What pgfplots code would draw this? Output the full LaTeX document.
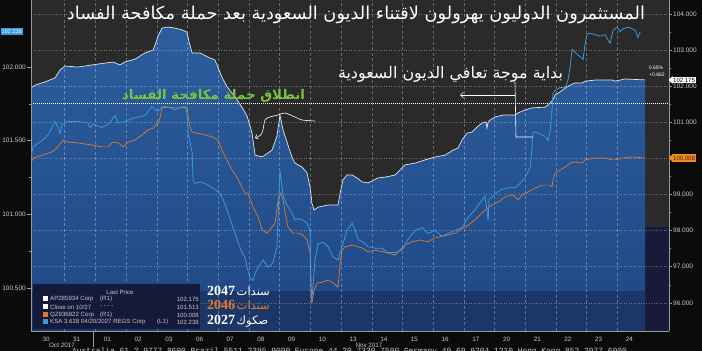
\documentclass[border=0pt]{standalone}
\usepackage{pgfplots}
\pgfplotsset{compat=1.18}
\usepackage{pgfplotstable}
\usepackage{graphicx}
\usepackage{fontspec}
\setmainfont{Liberation Sans}
\newfontfamily\arabicfont[Script=Arabic]{DejaVu Sans}
\newfontfamily\numfont{Liberation Serif}
\newfontfamily\monofont{Liberation Mono}
\TeXXeTstate=1
\usetikzlibrary{arrows.meta}

\definecolor{bgpage}{HTML}{0B0B0B}
\definecolor{bgplot}{HTML}{2A2A2A}
\definecolor{fillTop}{HTML}{2C5D9E}
\definecolor{fillBot}{HTML}{1F4884}
\definecolor{band}{HTML}{1B3769}
\definecolor{navy}{HTML}{171B38}
\definecolor{bbOrange}{HTML}{E07B2C}
\definecolor{boxOrange}{HTML}{F08A24}
\definecolor{bbBlue}{HTML}{3A98E0}
\definecolor{lgray}{HTML}{C8C8C8}
\definecolor{axgray}{HTML}{9A9A9A}
\definecolor{ggreen}{HTML}{7CC242}
\definecolor{legbg}{HTML}{15193A}
\definecolor{wline}{HTML}{E6E6E6}

\pgfplotstableread{
t v
-0.49 101.95
-0.36 102.03
-0.03 102.12
0.29 102.23
0.46 102.45
0.62 102.56
1.04 102.53
1.50 102.59
1.92 102.64
2.18 102.67
2.41 102.59
2.57 102.67
2.90 102.75
3.22 102.92
3.49 103.00
3.65 103.39
3.78 103.61
3.97 103.64
4.20 103.61
4.43 103.56
4.59 103.50
4.66 103.22
4.76 102.92
5.02 102.92
5.34 102.78
5.50 102.73
5.60 102.53
5.73 102.25
5.90 101.98
6.16 101.70
6.38 101.42
6.55 101.17
6.71 100.70
6.81 100.09
7.04 100.04
7.23 100.15
7.36 100.23
7.52 100.61
7.62 101.20
7.72 100.79
7.88 100.37
8.01 100.04
8.11 99.87
8.34 99.76
8.50 99.60
8.60 99.21
8.66 98.76
8.73 98.57
8.86 98.65
9.19 98.71
9.51 98.71
9.58 99.04
9.67 99.40
9.80 99.54
9.97 99.54
10.13 99.46
10.29 99.35
10.49 99.32
10.81 99.46
11.04 99.48
11.37 99.54
11.53 99.68
11.69 99.82
12.02 99.87
12.35 99.96
12.67 100.04
13.00 100.09
13.26 100.23
13.42 100.29
13.55 100.51
13.71 100.70
13.88 100.73
14.04 100.87
14.20 100.98
14.33 101.01
14.36 100.84
14.40 101.01
14.46 101.06
14.63 101.15
14.89 101.20
15.28 101.20
15.37 101.26
15.60 101.34
15.83 101.40
16.25 101.42
16.35 101.48
16.51 101.62
16.58 101.76
16.74 101.84
16.91 101.95
17.07 102.03
17.23 102.09
17.46 102.09
17.56 102.14
17.88 102.17
18.44 102.17
18.53 102.14
18.86 102.20
19.51 102.175
}\whitedata

\pgfplotstableread{
t v
-0.49 99.87
-0.42 100.01
-0.13 100.09
0.20 100.18
0.39 100.32
0.55 100.51
0.72 100.45
1.04 100.43
1.50 100.37
1.82 100.32
2.02 100.32
2.18 100.45
2.35 100.43
2.51 100.32
2.67 100.45
2.90 100.51
3.13 100.65
3.32 100.79
3.49 100.84
3.65 100.98
3.71 101.12
3.78 101.40
3.97 101.42
4.20 101.40
4.43 101.40
4.59 101.42
4.63 101.15
4.69 100.87
4.76 100.73
4.92 100.70
5.18 100.65
5.44 100.59
5.60 100.51
5.73 100.23
5.90 99.96
6.06 99.68
6.22 99.48
6.38 99.21
6.48 99.04
6.58 99.04
6.74 98.65
6.91 98.38
7.04 98.02
7.20 97.93
7.36 98.10
7.46 98.21
7.56 98.85
7.65 99.04
7.72 98.85
7.79 98.49
7.88 98.10
8.05 97.93
8.21 97.93
8.37 97.88
8.50 97.74
8.60 97.38
8.63 96.27
8.66 95.99
8.73 96.35
8.83 96.55
8.99 96.57
9.19 96.63
9.35 96.55
9.51 96.44
9.58 97.10
9.64 97.46
9.74 97.55
9.97 97.60
10.29 97.52
10.49 97.41
10.72 97.46
11.14 97.38
11.37 97.32
11.53 97.46
11.69 97.60
11.92 97.69
12.18 97.74
12.44 97.69
12.67 97.80
13.09 97.88
13.32 97.93
13.49 98.02
13.65 98.10
13.88 98.24
14.07 98.38
14.30 98.57
14.53 98.71
14.72 98.79
14.95 98.93
15.18 98.99
15.28 98.93
15.37 98.85
15.50 98.99
15.70 99.07
15.93 99.18
16.16 99.26
16.42 99.26
16.48 99.21
16.51 99.40
16.58 99.59
16.74 99.68
16.91 99.76
17.07 99.87
17.23 99.90
17.46 99.87
17.56 99.96
17.88 100.01
18.21 100.01
18.44 99.96
18.53 99.96
18.76 100.01
19.09 100.04
19.51 100.008
}\orangedata

\pgfplotstableread{
t v
-0.49 101.39
-0.42 101.46
-0.13 101.50
0.07 101.54
0.20 101.59
0.29 101.63
0.39 101.59
0.46 101.55
0.52 101.61
0.72 101.63
1.04 101.63
1.37 101.62
1.43 101.59
1.53 101.61
1.82 101.59
2.02 101.61
2.25 101.67
2.35 101.62
2.57 101.63
2.80 101.65
3.00 101.66
3.22 101.67
3.45 101.73
3.55 101.71
3.65 101.70
3.78 101.73
3.97 101.73
4.20 101.71
4.43 101.73
4.53 101.73
4.59 101.69
4.63 101.55
4.76 101.42
4.79 101.23
4.85 101.21
5.02 101.22
5.18 101.21
5.34 101.19
5.50 101.17
5.67 101.14
5.77 101.10
5.93 101.01
6.09 100.91
6.22 100.83
6.38 100.74
6.48 100.71
6.55 100.64
6.64 100.57
6.74 100.55
6.81 100.60
6.91 100.64
7.07 100.69
7.23 100.64
7.39 100.67
7.52 100.78
7.62 101.30
7.72 101.13
7.85 101.06
8.01 101.01
8.11 100.96
8.21 100.97
8.37 100.96
8.50 100.94
8.60 100.89
8.63 100.53
8.66 100.42
8.70 100.53
8.76 100.69
8.86 100.80
9.02 100.81
9.19 100.78
9.35 100.71
9.51 100.69
9.64 100.78
9.80 100.89
9.97 100.94
10.07 100.89
10.16 100.83
10.33 100.81
10.49 100.78
10.72 100.77
10.94 100.77
11.14 100.74
11.37 100.74
11.60 100.76
11.79 100.83
12.02 100.89
12.25 100.91
12.44 100.87
12.67 100.89
12.90 100.85
13.09 100.87
13.32 100.89
13.55 100.91
13.75 100.98
13.97 101.03
14.14 101.08
14.30 101.12
14.40 100.96
14.43 101.10
14.63 101.14
14.85 101.17
15.05 101.18
15.28 101.18
15.44 101.21
15.60 101.25
15.77 101.32
15.83 101.46
15.86 101.55
15.93 101.56
16.03 101.55
16.25 101.53
16.35 101.50
16.42 101.57
16.48 101.71
16.51 101.82
16.58 101.84
16.74 101.86
16.91 101.86
17.00 101.91
17.07 102.00
17.13 102.12
17.23 102.10
17.33 102.08
17.46 102.06
17.49 102.05
17.56 102.16
17.62 102.22
17.72 102.23
17.88 102.22
18.05 102.21
18.21 102.22
18.31 102.18
18.37 102.16
18.47 102.25
18.60 102.27
18.70 102.24
18.79 102.26
18.96 102.27
19.09 102.26
19.19 102.25
19.28 102.20
19.35 102.238
}\bluedata

\tikzset{
  hgrid/.style={draw=white, draw opacity=0.33, line width=0.5pt, dash pattern=on 1pt off 1.5pt},
  vgrid/.style={draw=white, draw opacity=0.30, line width=0.5pt, dash pattern=on 3pt off 2.5pt},
}
\newcommand{\tickfont}{\fontsize{6.5}{6.5}\selectfont}
\newcommand{\legfont}{\fontsize{6.1}{7}\selectfont}

\begin{document}
\begin{tikzpicture}[x=1pt,y=1pt]
\fill[bgpage] (0,0) rectangle (702,351);

% ---------------- main axis (right scale) ----------------
\begin{axis}[
  at={(31pt,20pt)}, anchor=south west,
  scale only axis, width=638pt, height=331pt,
  xmin=-0.489, xmax=20.29, ymin=95.219, ymax=104.388,
  axis x line*=bottom, axis y line*=right,
  axis line style={draw=axgray, line width=0.6pt, -},
  axis background/.style={fill=bgplot},
  xtick={0,...,19},
  xticklabels={30,31,01,02,03,06,07,08,09,10,13,14,15,16,17,20,21,22,23,24},
  xtick style={draw=none},
  xticklabel style={font=\fontsize{6.3}{6.3}\selectfont, text=lgray, anchor=north, inner sep=0pt, yshift=-3pt},
  ytick={96,97,...,104},
  yticklabels={96.000,97.000,98.000,99.000,,101.000,102.000,103.000,104.000},
  minor y tick num=1,
  ytick style={draw=axgray, line width=0.5pt},
  tick align=outside, major tick length=3pt, minor tick length=2pt,
  yticklabel style={font=\tickfont, text=lgray, anchor=west, inner sep=0pt, xshift=1pt},
  clip=true,
]
\fill[navy] (axis cs:19.51,95.219) rectangle (axis cs:20.29,98.10);
\addplot[draw=none, no marks, top color=fillTop, bottom color=fillBot] table {\whitedata}
  -- (axis cs:19.51,95.219) -- (axis cs:-0.49,95.219) -- cycle;
\fill[band] (axis cs:-0.489,95.219) rectangle (axis cs:19.51,96.33);
\pgfplotsinvokeforeach{96,97,98,99,100,101,102,103,104}{
  \draw[hgrid] (axis cs:-0.489,#1) -- (axis cs:20.29,#1);
}
\pgfplotsinvokeforeach{0.61,1.61,2.61,3.61,4.61,5.61,6.61,7.61,8.61,9.61,10.61,11.61,12.61,13.61,14.61,15.61,16.61,17.61,18.61}{
  \draw[vgrid] (axis cs:#1,95.219) -- (axis cs:#1,104.388);
}
\draw[white, line width=0.7pt, dash pattern=on 1pt off 1pt] (axis cs:-0.489,101.513) -- (axis cs:20.29,101.513);
\addplot[no marks, color=wline, line width=0.7pt] table {\whitedata};
\addplot[no marks, color=bbOrange, line width=0.7pt] table {\orangedata};
\end{axis}

% ---------------- second axis (left scale) ----------------
\begin{axis}[
  at={(31pt,20pt)}, anchor=south west,
  scale only axis, width=638pt, height=331pt,
  xmin=-0.489, xmax=20.29, ymin=100.2077, ymax=102.4549,
  axis y line*=left, axis x line=none,
  axis line style={draw=axgray, line width=0.6pt, -},
  ytick={100.5,101,101.5,102},
  minor y tick num=1,
  ytick style={draw=axgray, line width=0.5pt},
  tick align=outside, major tick length=4pt, minor tick length=2pt,
  yticklabel style={font=\tickfont, text=lgray, anchor=east, inner sep=0pt, xshift=-1pt,
    /pgf/number format/fixed, /pgf/number format/fixed zerofill,
    /pgf/number format/precision=3, /pgf/number format/assume math mode=true},
  clip=true,
]
\addplot[no marks, color=bbBlue, line width=0.8pt] table {\bluedata};
\end{axis}

% ---------------- annotations ----------------
\node[text=white, inner sep=0pt] at (356,336)
  {\resizebox{578pt}{!}{\arabicfont\beginR المستثمرون الدوليون يهرولون لاقتناء الديون السعودية بعد حملة مكافحة الفساد\endR}};
\node[text=ggreen, inner sep=0pt] at (213.5,255)
  {\resizebox{183pt}{!}{\arabicfont\bfseries\beginR انطلاق حملة مكافحة الفساد\endR}};
\node[text=white, inner sep=0pt] at (450.5,277)
  {\resizebox{225pt}{!}{\arabicfont\beginR بداية موجة تعافي الديون السعودية\endR}};

\draw[white, line width=0.6pt, {Straight Barb[length=2.5pt]}-] plot[smooth] coordinates
  {(255,213) (262,218) (265,231) (270,234) (278,236) (285,238) (295,234) (302,231) (315,230)};
\draw[white, line width=0.6pt] (515,269) -- (516,214) -- (533,214);
\draw[white, line width=0.6pt, -{Straight Barb[length=3pt]}] (515,256) -- (460,256);

% right-side value tags
\fill[white] (668.5,271) -- (672.5,275) -- (672.5,267) -- cycle;
\node[fill=white, text=black, font=\fontsize{6}{6}\selectfont, inner xsep=1pt, inner ysep=1.2pt, anchor=west] at (672,271) {102.175};
\fill[boxOrange] (668.5,193) -- (672.5,197) -- (672.5,189) -- cycle;
\node[fill=boxOrange, text=black!70!orange, font=\fontsize{6}{6}\selectfont, inner xsep=1pt, inner ysep=1.5pt, anchor=west] at (672,193) {100.008};
\node[fill=bbBlue, text=white, font=\fontsize{5.6}{5.6}\selectfont, inner xsep=1pt, inner ysep=1.3pt, anchor=west] at (0.5,319.5) {102.238};
\node[text=white, font=\fontsize{5}{5}\selectfont, inner sep=0pt] at (656,283) {0.65\%};
\node[text=white, font=\fontsize{5}{5}\selectfont, inner sep=0pt] at (657,276) {+0.662};

% legend
\fill[legbg] (33,22) rectangle (200,67);
\node[text=lgray, font=\legfont, inner sep=0pt] at (120,59) {Last Price};
\fill[white] (43,49.5) rectangle (48,54.5);
\fill[white] (43,41.5) rectangle (48,46.5);
\fill[bbOrange] (43,33.5) rectangle (48,38.5);
\fill[bbBlue] (43,26.5) rectangle (48,31.5);
\node[text=lgray, font=\legfont, inner sep=0pt, anchor=west] at (50,52) {AP285934 Corp};
\node[text=lgray, font=\legfont, inner sep=0pt, anchor=west] at (100,52) {(R1)};
\node[text=lgray, font=\legfont, inner sep=0pt, anchor=east] at (199,52) {102.175};
\node[text=lgray, font=\legfont, inner sep=0pt, anchor=west] at (50,44) {Close on 10/27};
\node[text=lgray, font=\legfont, inner sep=0pt, anchor=west] at (100,44) {- - - -};
\node[text=lgray, font=\legfont, inner sep=0pt, anchor=east] at (199,44) {101.513};
\node[text=lgray, font=\legfont, inner sep=0pt, anchor=west] at (50,36) {QZ936822 Corp};
\node[text=lgray, font=\legfont, inner sep=0pt, anchor=west] at (100,36) {(R1)};
\node[text=lgray, font=\legfont, inner sep=0pt, anchor=east] at (199,36) {100.008};
\node[text=lgray, font=\legfont, inner sep=0pt, anchor=west] at (50,29) {KSA 3.628 04/20/2027 REGS Corp};
\node[text=lgray, font=\legfont, inner sep=0pt, anchor=west] at (157,29) {(L1)};
\node[text=lgray, font=\legfont, inner sep=0pt, anchor=east] at (199,29) {102.238};

% Arabic series labels
\node[text=white, inner sep=0pt, anchor=west] at (207,60.5)
  {{\numfont\bfseries\fontsize{14}{14}\selectfont 2047}\hspace{1.5pt}{\arabicfont\fontsize{11.5}{11.5}\selectfont\beginR سندات\endR}};
\node[text=bbOrange, inner sep=0pt, anchor=west] at (207,46.5)
  {{\numfont\bfseries\fontsize{14}{14}\selectfont 2046}\hspace{1.5pt}{\arabicfont\fontsize{11.5}{11.5}\selectfont\beginR سندات\endR}};
\node[text=white, inner sep=0pt, anchor=west] at (207,30)
  {{\numfont\bfseries\fontsize{14}{14}\selectfont 2027}\hspace{1.5pt}{\arabicfont\fontsize{11.5}{11.5}\selectfont\beginR صكوك\endR}};

% x-axis month labels and separator
\draw[axgray, line width=0.5pt] (93,20) -- (93,4);
\node[text=lgray, font=\fontsize{6.3}{6.3}\selectfont, inner sep=0pt] at (62,6) {Oct 2017};
\node[text=lgray, font=\fontsize{6.3}{6.3}\selectfont, inner sep=0pt] at (369,6) {Nov 2017};

% footer (cut by the page edge, as in the original)
\node[text=lgray, font=\monofont\fontsize{7.9}{7.9}\selectfont, inner sep=0pt, anchor=north west] at (72,3)
  {Australia 61 2 9777 8600 Brazil 5511 2395 9000 Europe 44 20 7330 7500 Germany 49 69 9204 1210 Hong Kong 852 2977 6000};

\pgfresetboundingbox
\useasboundingbox (0,0) rectangle (702,351);
\end{tikzpicture}
\end{document}
